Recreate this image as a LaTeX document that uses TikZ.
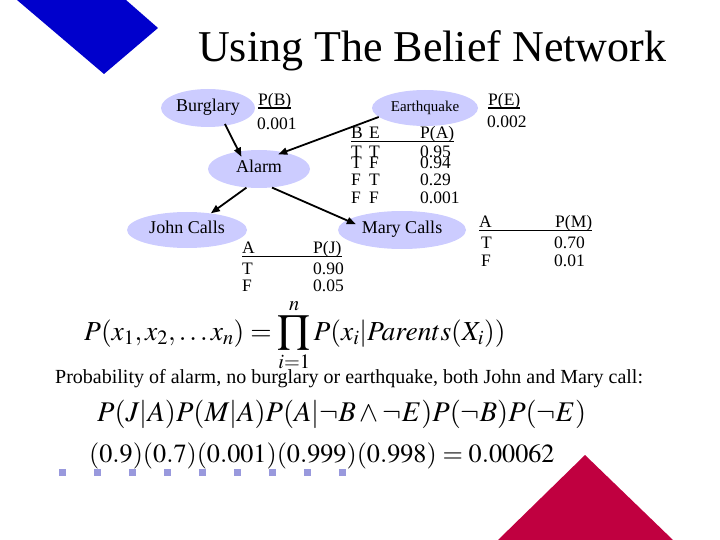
\documentclass[tikz,border=0pt]{standalone}
\usepackage{mathptmx}
\usepackage{fontspec}
\setmainfont{Liberation Serif}
\usetikzlibrary{shapes.geometric,arrows.meta}
\definecolor{ellfill}{RGB}{204,204,255}
\definecolor{sqfill}{RGB}{153,153,221}
\definecolor{dblue}{RGB}{0,0,204}
\definecolor{dred}{RGB}{192,0,64}
\begin{document}
\begin{tikzpicture}[x=1pt,y=-1pt,
  ell/.style={ellipse,fill=ellfill,inner sep=0pt,text height=0.66em,text depth=0pt,font=\fontsize{18}{20}\selectfont},
  txt/.style={inner sep=0pt,anchor=base west,font=\fontsize{17.5}{19}\selectfont},
  mth/.style={inner sep=0pt,anchor=base west},
  conn/.style={line width=1.8pt,-{Triangle[length=9pt,width=7pt]}},
  rulel/.style={line width=1.6pt}]
\useasboundingbox (0,0) rectangle (720,540);
\fill[dblue] (17,0) -- (126,0) -- (158,28) -- (104,74) -- cycle;
\fill[dred] (585,455) -- (673,540) -- (498,540) -- cycle;
\node[anchor=base west,inner sep=0pt,font=\fontsize{44}{48}\selectfont] (title) at (198,62) {Using The Belief Network};
% network nodes
\node[ell,minimum width=94,minimum height=38] (burg) at (208,108) {Burglary};
\node[ell,minimum width=106,minimum height=36,font=\fontsize{15}{17}\selectfont] (eq) at (425,108) {Earthquake};
\node[ell,minimum width=102,minimum height=38] (alarm) at (259,169) {Alarm};
\node[ell,minimum width=120,minimum height=36] (john) at (187,230) {John Calls};
\node[ell,minimum width=128,minimum height=38] (mary) at (402,230) {Mary Calls};
% priors
\node[txt] (pb) at (258,106) {P(B)};
\draw[rulel] ([yshift=-2pt]pb.base west) -- ([yshift=-2pt]pb.base east);
\node[txt] (pbv) at (257,130) {0.001};
\node[txt] (pe) at (488,106) {P(E)};
\draw[rulel] ([yshift=-2pt]pe.base west) -- ([yshift=-2pt]pe.base east);
\node[txt] (pev) at (487,128) {0.002};
% alarm CPT
\node[txt] (ab) at (351,139) {B};
\node[txt] (ae) at (369,139) {E};
\node[txt] (apa) at (420,139) {P(A)};
\draw[rulel] ([yshift=-2.5pt]ab.base west) -- ([yshift=-2.5pt]apa.base east);
\node[txt] (a1b) at (351,158) {T};
\node[txt] (a1e) at (369,158) {T};
\node[txt] (a1v) at (420,158) {0.95};
\node[txt] (a2b) at (351,169) {T};
\node[txt] (a2e) at (369,169) {F};
\node[txt] (a2v) at (420,169) {0.94};
\node[txt] (a3b) at (351,186) {F};
\node[txt] (a3e) at (369,186) {T};
\node[txt] (a3v) at (420,186) {0.29};
\node[txt] (a4b) at (351,204) {F};
\node[txt] (a4e) at (369,204) {F};
\node[txt] (a4v) at (420,204) {0.001};
% John CPT
\node[txt] (ja) at (242,254) {A};
\node[txt] (jp) at (313,254) {P(J)};
\draw[rulel] ([yshift=-2.5pt]ja.base west) -- ([yshift=-2.5pt]jp.base east);
\node[txt] (jt) at (242,274) {T};
\node[txt] (jf) at (242,291) {F};
\node[txt] (jtv) at (313,274) {0.90};
\node[txt] (jfv) at (313,291) {0.05};
% Mary CPT
\node[txt] (ma) at (479,228) {A};
\node[txt] (mp) at (555,228) {P(M)};
\draw[rulel] ([yshift=-2.5pt]ma.base west) -- ([yshift=-2.5pt]mp.base east);
\node[txt] (mt) at (481,248) {T};
\node[txt] (mf) at (481,266) {F};
\node[txt] (mtv) at (554,248) {0.70};
\node[txt] (mfv) at (554,266) {0.01};
% arrows
\draw[conn,shorten <=-2pt,shorten >=-6pt] (burg.-45) -- (alarm.139);
\draw[conn,shorten >=-6pt] (eq.-169) -- (alarm.34);
\draw[conn] (alarm.-124) -- (john.35);
\draw[conn,shorten >=-10pt] (alarm.-55) -- (mary.170);
% formulas
\node[mth,font=\fontsize{27.5}{30}\selectfont] (f1) at (84,340) {$\displaystyle P(x_1,x_2,\ldots x_n)=\prod_{i=1}^{n}P(x_i|Parents(X_i))$};
\node[inner sep=0pt,anchor=base west,font=\fontsize{20}{22}\selectfont] (prob) at (55,383) {Probability of alarm, no burglary or earthquake, both John and Mary call:};
\node[mth,font=\fontsize{28.5}{30}\selectfont] (f2) at (97,421) {$P(J|A)P(M|A)P(A|\neg B\wedge\neg E)P(\neg B)P(\neg E)$};
\node[mth,font=\fontsize{26.2}{30}\selectfont] (f3) at (89,462) {$(0.9)(0.7)(0.001)(0.999)(0.998)=0.00062$};
% decorative squares
\foreach \i in {0,...,8} \fill[sqfill] ({58.5+35*\i},468.5) rectangle ++(7,7);
\end{tikzpicture}
\end{document}
